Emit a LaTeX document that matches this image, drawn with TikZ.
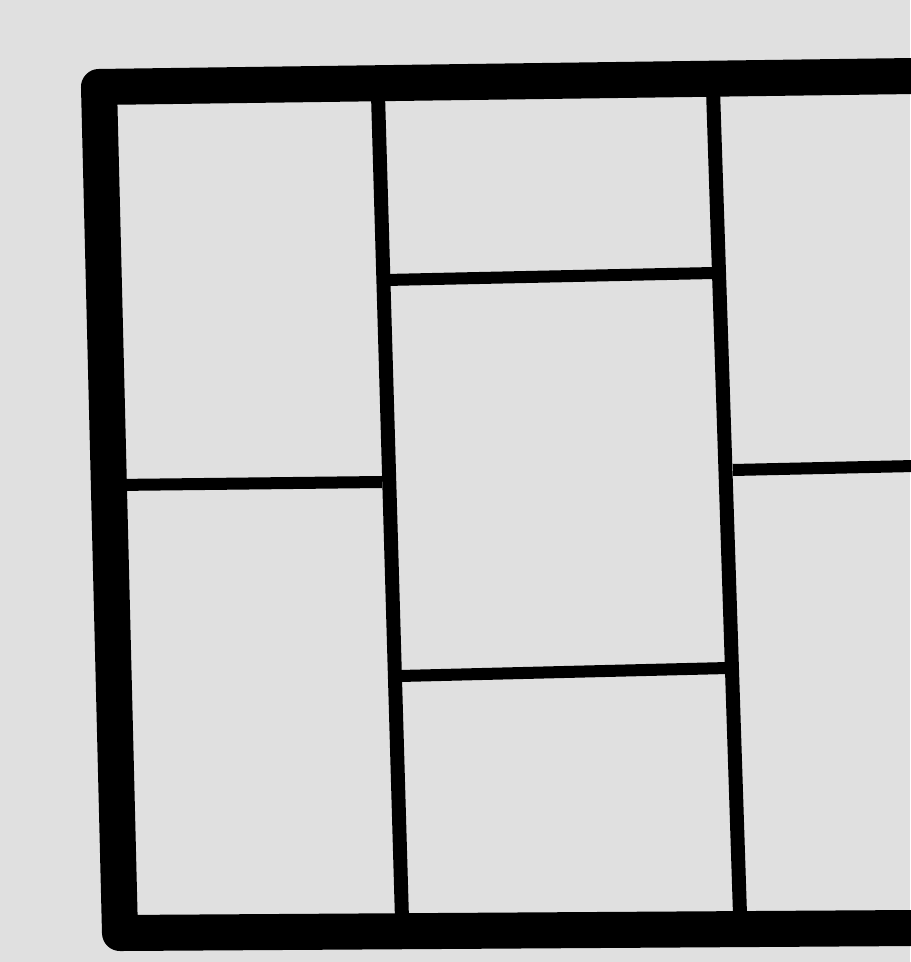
\documentclass[tikz,border=0pt]{standalone}
\begin{document}
\begin{tikzpicture}[x=0.01cm,y=-0.01cm,
  frame/.style={line width=0.36cm,line join=round,line cap=butt},
  wall/.style={line width=0.14cm,line cap=butt},
  thin/.style={line width=0.12cm,line cap=butt}]
\definecolor{paper}{RGB}{224,224,224}
\fill[paper] (0,0) rectangle (910,962);
\useasboundingbox (0,0) rectangle (910,962);
% outer frame
\draw[frame] (915,76) -- (99,87) -- (120,933) -- (915,928);
% vertical walls
\coordinate (v1t) at (378,95);
\coordinate (v1b) at (402,920);
\coordinate (v2t) at (713,90);
\coordinate (v2b) at (740,915);
\draw[wall] (v1t) -- (v1b);
\draw[wall] (v2t) -- (v2b);
% horizontal walls
\draw[thin] (116,485) -- (382,482);
\draw[thin] (386,280) -- (714,273);
\draw[thin] (400,676) -- (728,668);
\draw[thin] (733,470) -- (915,466);
\end{tikzpicture}
\end{document}
